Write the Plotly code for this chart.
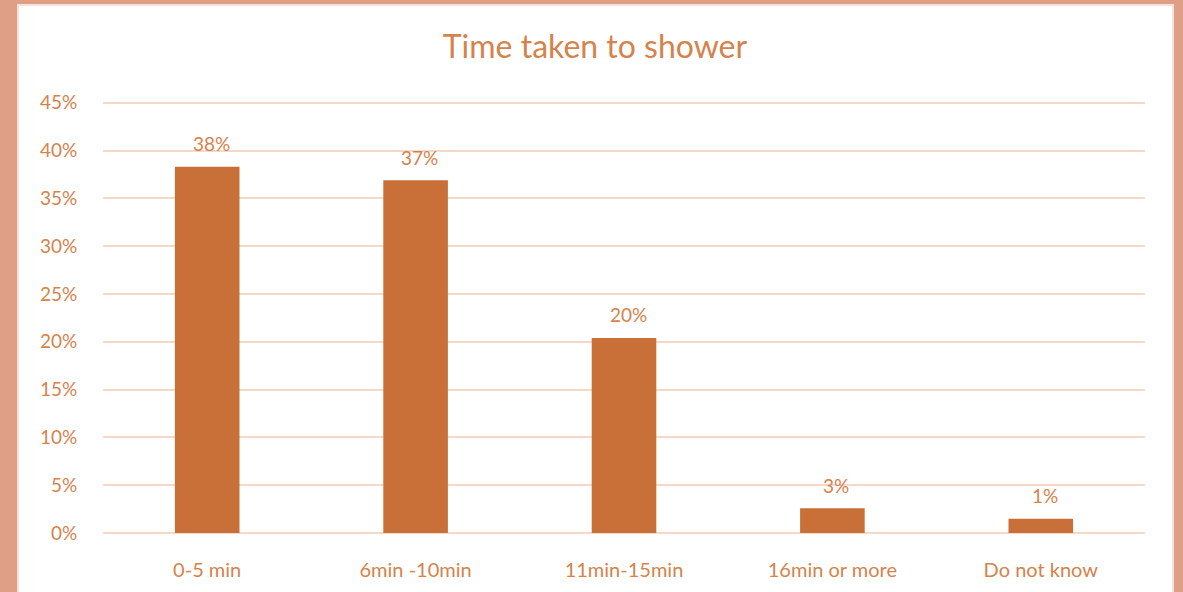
import plotly.graph_objects as go

categories = ["0-5 min", "6min -10min", "11min-15min", "16min or more", "Do not know"]
values = [38.3, 36.9, 20.4, 2.6, 1.5]
labels = ["38%", "37%", "20%", "3%", "1%"]
tick_vals = [0, 5, 10, 15, 20, 25, 30, 35, 40, 45]
tick_text = ["0%", "5%", "10%", "15%", "20%", "25%", "30%", "35%", "40%", "45%"]

W, H = 1183, 592
ml, mr, mt, mb = 103, 38, 98, 59
pw, ph = W - ml - mr, H - mt - mb
ymax = 45.5

def px(x):
    return (x - ml) / pw

def py(y):
    return (H - mb - y) / ph

text_col = "#D4834C"
bar_col = "#C96F38"
grid_col = "#F4D8C8"
border_col = "#DF9E86"
font_family = "Lato, Open Sans, sans-serif"

fig = go.Figure(go.Bar(
    x=categories, y=values,
    marker=dict(color=bar_col, line=dict(width=0)),
    width=0.31,
))

for c, v, t in zip(categories, values, labels):
    fig.add_annotation(x=c, y=v, text=t, showarrow=False, yanchor="middle",
                       yshift=23, xshift=4,
                       font=dict(color=text_col, size=19, family=font_family))

fig.update_layout(
    width=W, height=H,
    margin=dict(l=ml, r=mr, t=mt, b=mb),
    paper_bgcolor=border_col,
    plot_bgcolor="rgba(0,0,0,0)",
    showlegend=False,
    title=dict(text="Time taken to shower", x=595 / W, xanchor="center",
               y=1 - 47 / H, yanchor="middle",
               font=dict(color=text_col, size=32, family=font_family)),
    shapes=[dict(type="rect", xref="paper", yref="paper",
                 x0=px(18), x1=px(1173), y0=py(620), y1=py(5),
                 fillcolor="white", line=dict(width=2, color="#F6E2D8"), layer="below")],
    xaxis=dict(showgrid=False, showline=False, zeroline=False,
               tickfont=dict(color=text_col, size=20, family=font_family),
               ticks="outside", ticklen=19, tickcolor="rgba(0,0,0,0)"),
    yaxis=dict(range=[0, ymax], tickvals=tick_vals, ticktext=tick_text,
               showgrid=True, gridcolor=grid_col, gridwidth=2,
               zeroline=True, zerolinecolor=grid_col, zerolinewidth=2,
               showline=False,
               tickfont=dict(color=text_col, size=19, family=font_family),
               ticks="outside", ticklen=21, tickcolor="rgba(0,0,0,0)"),
)

fig.write_html("out.html")
